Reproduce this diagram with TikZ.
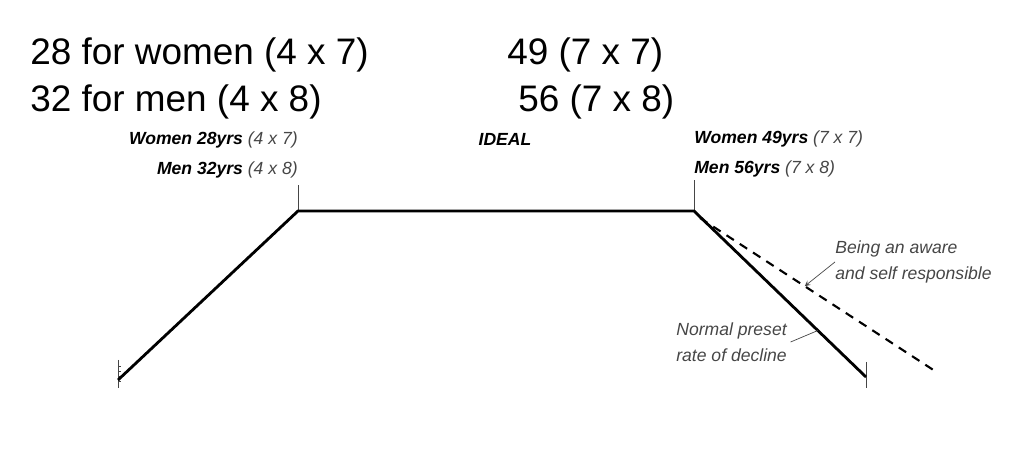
\documentclass[tikz,border=0pt]{standalone}
\usepackage{fontspec}
\setmainfont{Liberation Sans}
\usepackage{tikz}
\usetikzlibrary{arrows,positioning}
\usepackage{xcolor}
\definecolor{lfblack}{RGB}{0,0,0}
\definecolor{lfgray}{RGB}{70,70,70}
\tikzstyle{leader} = [thin,->,>=stealth,color=lfgray]

\begin{document}
\begin{tikzpicture}[
    rule/.style={font=\fontsize{21}{25}\selectfont, inner sep=0pt},
    tag/.style={font=\fontsize{10}{15}\selectfont\itshape, inner sep=0pt},
    note/.style={font=\fontsize{10}{15}\selectfont\itshape, align=left, inner sep=0pt, color=lfgray},
    life/.style={line width=1.6pt, lfblack},
    aware/.style={line width=1.2pt, dash pattern=on 5pt off 4pt, lfblack},
    tickline/.style={thin, lfgray}]

\useasboundingbox (0,0) rectangle (20.48,9.12);

% Rules of seven
\node[rule, anchor=west] (women) at (0.6,8.02) {28 for women (4 x 7)};
\node[rule, anchor=west] (men) at (0.6,7.08) {32 for men (4 x 8)};
\node[rule, anchor=west] (womenend) at (10.14,8.02) {49 (7 x 7)};
\node[rule, anchor=west] (menend) at (10.36,7.08) {56 (7 x 8)};

% Curve corners
\coordinate (start) at (2.36,1.52);
\coordinate (peakL) at (5.96,4.90);
\coordinate (peakR) at (13.88,4.90);
\coordinate (endR) at (17.32,1.58);
\coordinate (dashA) at (14.00,4.76);
\coordinate (dashB) at (18.76,1.66);

% Labels
\node[tag, anchor=east] (w28) at (5.96,6.32) {\textbf{Women 28yrs} {\color{lfgray}(4 x 7)}};
\node[tag, anchor=east] (m32) at (5.96,5.72) {\textbf{Men 32yrs} {\color{lfgray}(4 x 8)}};
\node[tag] (ideal) at (10.10,6.34) {\textbf{IDEAL}};
\node[tag, anchor=west] (w49) at (13.88,6.34) {\textbf{Women 49yrs} {\color{lfgray}(7 x 7)}};
\node[tag, anchor=west] (m56) at (13.88,5.74) {\textbf{Men 56yrs} {\color{lfgray}(7 x 8)}};
\node[note, anchor=west] (selfresp) at (16.70,3.88) {Being an aware\\and self responsible};
\node[note, anchor=west] (decline) at (13.52,2.28) {Normal preset\\rate of decline};

% Ticks
\draw[tickline] (2.36,1.92) -- (2.36,1.36);
\foreach \y in {1.50,1.60,1.70,1.80} \draw[tickline] (2.36,\y) -- (2.42,\y);
\draw[tickline] (peakL) -- (5.96,5.42);
\draw[tickline] (peakR) -- (13.88,5.52);
\draw[tickline] (17.32,1.88) -- (17.32,1.36);

% Life line
\draw[life] (start) -- (peakL) -- (peakR) -- (endR);
\draw[aware] (dashA) -- (dashB);

% Leaders
\path (peakR) -- (endR) coordinate[pos=0.72] (onsolid);
\path (dashA) -- (dashB) coordinate[pos=0.44] (ondash);
\draw[leader] (selfresp.west) -- (ondash);
\draw[leader, -] ([xshift=2pt]decline.east) -- (onsolid);
\end{tikzpicture}
\end{document}
